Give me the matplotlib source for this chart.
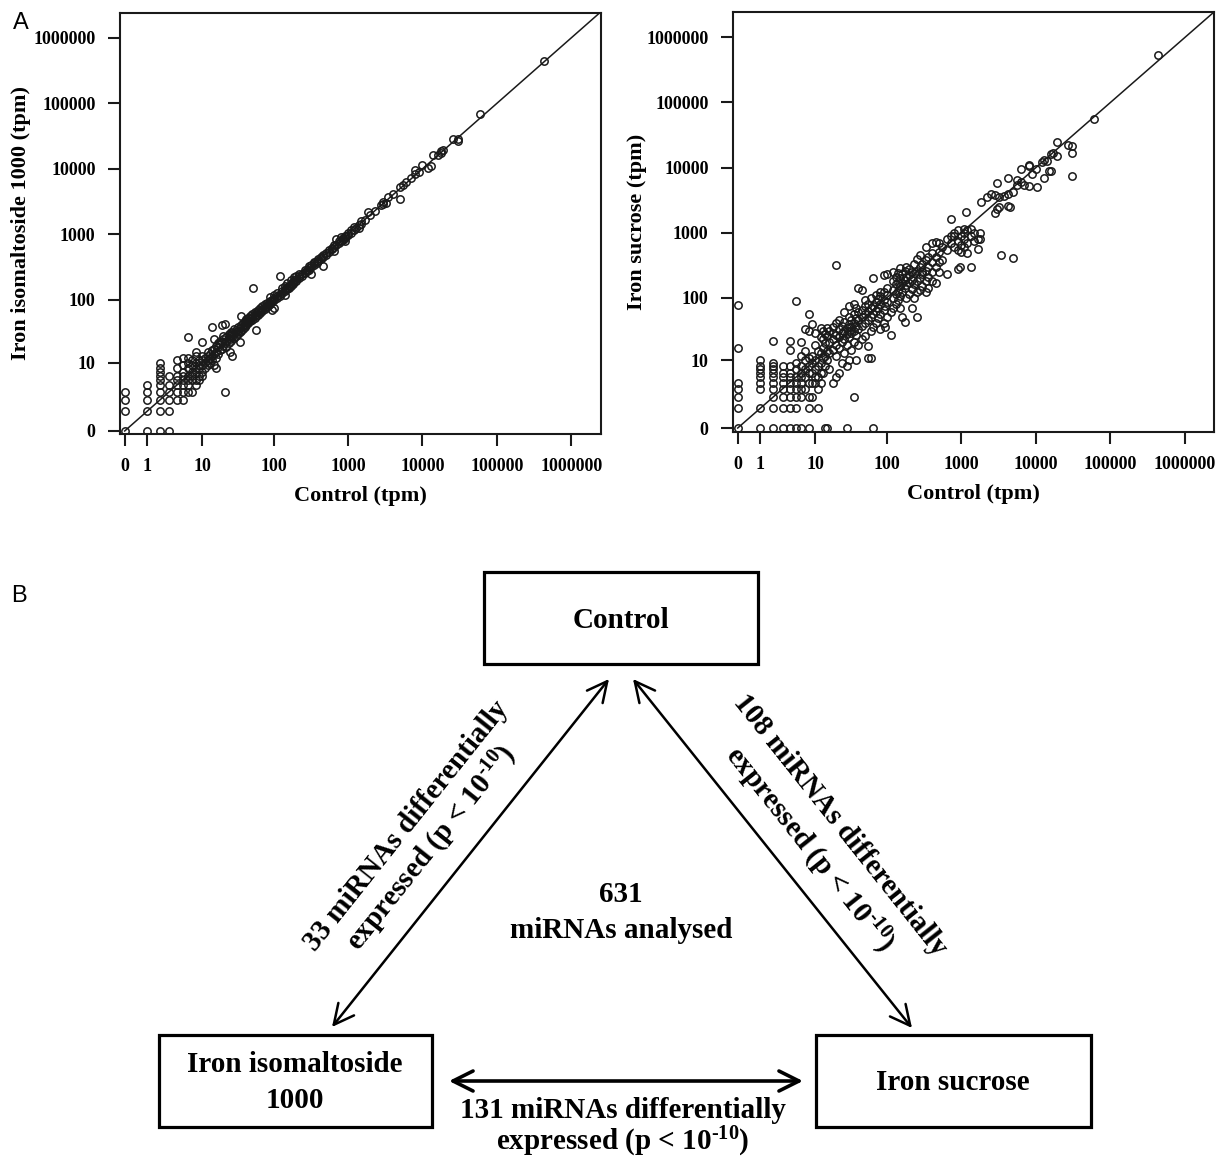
import numpy as np
import matplotlib
matplotlib.use('Agg')
import matplotlib.pyplot as plt
from matplotlib.patches import Rectangle
from matplotlib.ticker import NullLocator

# (control tpm, treatment tpm), left
iso_points = [
    (0, 0), (0, 1), (0, 2), (0, 3),
    (1, 0), (1, 1), (1, 2), (1, 3), (1, 4),
    (2, 0), (2, 1), (2, 2), (2, 3), (2, 4), (2, 5), (2, 6), (2, 7), (2, 8), (2, 10),
    (3, 0), (3, 1), (3, 2), (3, 3), (3, 4), (3, 6),
    (4, 2), (4, 3), (4, 4), (4, 5), (4, 6), (4, 8), (4, 11),
    (5, 2), (5, 3), (5, 4), (5, 5), (5, 6), (5, 7), (5, 9), (5, 12),
    (6, 3), (6, 4), (6, 5), (6, 6), (6, 8), (6, 10), (6, 12), (6, 26),
    (7, 3), (7, 5), (7, 6), (7, 7), (7, 9), (7, 11),
    (8, 4), (8, 5), (8, 7), (8, 8), (8, 10), (8, 13), (8, 15),
    (9, 5), (9, 6), (9, 8), (9, 9), (9, 11),
    (10, 6), (10, 7), (10, 9), (10, 11), (10, 13), (10, 22),
    (11, 8), (11, 10), (11, 12), (12, 9), (12, 11), (12, 13), (12, 15),
    (13, 10), (13, 12), (13, 14), (14, 11), (14, 13), (14, 16), (14, 38),
    (15, 9), (15, 14), (15, 17), (15, 24), (16, 8), (16, 12), (16, 15), (16, 19),
    (17, 14), (17, 18), (17, 21), (18, 16), (18, 20), (18, 23),
    (19, 17), (19, 22), (19, 40), (20, 19), (20, 24), (20, 27),
    (21, 3), (21, 21), (21, 42), (22, 18), (22, 23), (22, 26),
    (24, 21), (24, 25), (24, 29), (25, 15), (25, 24), (25, 27),
    (26, 23), (26, 28), (26, 32), (27, 13), (27, 26), (27, 30),
    (28, 25), (28, 29), (28, 35), (30, 27), (30, 31), (30, 34),
    (32, 29), (32, 33), (32, 38), (34, 22), (34, 31), (34, 36),
    (35, 33), (35, 40), (35, 55), (38, 35), (38, 39), (38, 44),
    (40, 37), (40, 42), (40, 47), (42, 40), (42, 45), (42, 50),
    (45, 43), (45, 47), (45, 52), (48, 46), (48, 50), (48, 55),
    (50, 48), (50, 53), (50, 60), (52, 150), (55, 52), (55, 57), (55, 64),
    (58, 34), (58, 56), (58, 62), (60, 58), (60, 65), (60, 70),
    (65, 62), (65, 68), (65, 74), (70, 66), (70, 73), (70, 80),
    (75, 72), (75, 78), (75, 85), (80, 76), (80, 84), (80, 90),
    (85, 82), (85, 88), (90, 86), (90, 95), (90, 110),
    (95, 70), (95, 92), (95, 100), (100, 75), (100, 98), (100, 105), (100, 120),
    (110, 105), (110, 115), (110, 125), (120, 230), (120, 115), (120, 124),
    (130, 125), (130, 135), (130, 150), (140, 120), (140, 138), (140, 145), (140, 160),
    (150, 145), (150, 155), (150, 180), (160, 150), (160, 165),
    (170, 165), (170, 175), (170, 200), (180, 175), (180, 190),
    (190, 185), (190, 200), (190, 220), (200, 195), (200, 210), (200, 230),
    (220, 215), (220, 230), (220, 250), (240, 235), (240, 250),
    (260, 255), (260, 270), (260, 290), (280, 275), (280, 290),
    (300, 290), (300, 310), (300, 330), (320, 245), (320, 315), (320, 335),
    (350, 340), (350, 360), (350, 380), (380, 370), (380, 395),
    (400, 390), (400, 415), (430, 420), (430, 445), (460, 330), (460, 450), (460, 480),
    (500, 490), (500, 520), (550, 540), (550, 575), (600, 590), (600, 630),
    (650, 550), (650, 640), (650, 700), (700, 690), (700, 850),
    (750, 740), (750, 780), (800, 780), (800, 900), (850, 830), (850, 880),
    (900, 880), (900, 940), (900, 780), (950, 930), (1000, 980), (1000, 1050),
    (1100, 1050), (1100, 1150), (1200, 1300), (1200, 1150), (1300, 1250),
    (1400, 1380), (1400, 1250), (1500, 1450), (1500, 1600), (1700, 1650),
    (1850, 2200), (2000, 1950), (2300, 2250), (2800, 2850),
    (3000, 3150), (3000, 2950), (3200, 3000), (3500, 3700), (4000, 4100),
    (5000, 3500), (5000, 5300), (5500, 5600), (6000, 6300), (7000, 7200),
    (8000, 8500), (8000, 9500), (9000, 9000), (10000, 11500), (12000, 10500),
    (13000, 11000), (14000, 16500), (16000, 16500), (18000, 18500), (18000, 17500),
    (19000, 19500), (26000, 29000), (30000, 27000), (30000, 29000),
    (60000, 70000), (430000, 450000),
]

# (control tpm, treatment tpm), right
suc_points = [
    (0, 0), (0, 1), (0, 2), (0, 3), (0, 4), (0, 16), (0, 76),
    (1, 0), (1, 1), (1, 3), (1, 4), (1, 5), (1, 6), (1, 7), (1, 8), (1, 10),
    (2, 0), (2, 1), (2, 2), (2, 3), (2, 4), (2, 5), (2, 6), (2, 7), (2, 8), (2, 9), (2, 21),
    (3, 0), (3, 1), (3, 2), (3, 3), (3, 4), (3, 5), (3, 6), (3, 8),
    (4, 0), (4, 1), (4, 2), (4, 3), (4, 4), (4, 5), (4, 6), (4, 8), (4, 15), (4, 21),
    (5, 0), (5, 1), (5, 2), (5, 3), (5, 4), (5, 5), (5, 7), (5, 9), (5, 89),
    (6, 0), (6, 2), (6, 3), (6, 4), (6, 5), (6, 6), (6, 8), (6, 12), (6, 20),
    (7, 3), (7, 5), (7, 7), (7, 10), (7, 14), (7, 32),
    (8, 0), (8, 1), (8, 2), (8, 4), (8, 6), (8, 8), (8, 11), (8, 30), (8, 55),
    (9, 2), (9, 4), (9, 6), (9, 9), (9, 12), (9, 38),
    (10, 4), (10, 5), (10, 7), (10, 10), (10, 18), (10, 28),
    (11, 1), (11, 3), (11, 5), (11, 8), (11, 14),
    (12, 4), (12, 6), (12, 9), (12, 13), (12, 24), (12, 33),
    (13, 6), (13, 11), (13, 16), (13, 22), (13, 30),
    (14, 0), (14, 8), (14, 12), (14, 19), (14, 27),
    (15, 0), (15, 10), (15, 14), (15, 25), (15, 33),
    (16, 7), (16, 13), (16, 20), (16, 30),
    (18, 4), (18, 15), (18, 22), (18, 28), (18, 35),
    (20, 5), (20, 12), (20, 18), (20, 26), (20, 40), (20, 320),
    (22, 6), (22, 16), (22, 24), (22, 32), (22, 44),
    (24, 9), (24, 20), (24, 28), (24, 36),
    (26, 13), (26, 22), (26, 30), (26, 42), (26, 60),
    (28, 0), (28, 8), (28, 18), (28, 27), (28, 33),
    (30, 10), (30, 24), (30, 30), (30, 38), (30, 50), (30, 75),
    (32, 15), (32, 28), (32, 35), (32, 45),
    (35, 2), (35, 20), (35, 30), (35, 40), (35, 55), (35, 80),
    (38, 10), (38, 26), (38, 36), (38, 48), (38, 70),
    (40, 18), (40, 32), (40, 44), (40, 60), (40, 140),
    (45, 22), (45, 36), (45, 50), (45, 65), (45, 130),
    (50, 25), (50, 40), (50, 56), (50, 75), (50, 90),
    (55, 11), (55, 17), (55, 45), (55, 62), (55, 80),
    (60, 11), (60, 30), (60, 50), (60, 70), (60, 100),
    (64, 0), (64, 200), (65, 35), (65, 55), (65, 75),
    (70, 40), (70, 62), (70, 85), (70, 110), (75, 48), (75, 70), (75, 95),
    (80, 32), (80, 55), (80, 80), (80, 105), (80, 120),
    (90, 40), (90, 65), (90, 90), (90, 120), (90, 220), (95, 35), (95, 75),
    (100, 50), (100, 85), (100, 110), (100, 140), (100, 230),
    (114, 26), (114, 60), (120, 70), (120, 100), (120, 130), (120, 180), (120, 250),
    (130, 80), (130, 115), (130, 160), (130, 210),
    (140, 90), (140, 125), (140, 175), (140, 240),
    (150, 70), (150, 105), (150, 150), (150, 200), (150, 290),
    (160, 50), (160, 120), (160, 170), (160, 230),
    (173, 42), (173, 140), (173, 190), (173, 260),
    (180, 100), (180, 155), (180, 210), (180, 300),
    (200, 115), (200, 170), (200, 220), (200, 280),
    (215, 68), (215, 135), (215, 190), (215, 250),
    (230, 100), (230, 160), (230, 240), (230, 330),
    (250, 50), (250, 120), (250, 180), (250, 260), (250, 400),
    (280, 130), (280, 200), (280, 300), (280, 450),
    (300, 150), (300, 230), (300, 330), (300, 250),
    (330, 120), (330, 180), (330, 260), (330, 380), (330, 600),
    (360, 140), (360, 210), (360, 300), (360, 430),
    (400, 180), (400, 250), (400, 350), (400, 480), (400, 700),
    (455, 170), (455, 300), (455, 420), (455, 720),
    (500, 250), (500, 350), (500, 500), (500, 700), (550, 380), (550, 600),
    (640, 230), (640, 550), (640, 800), (720, 1600), (720, 700), (720, 900),
    (800, 600), (800, 900), (800, 1000), (900, 280), (900, 550), (900, 750), (900, 1100),
    (950, 300), (1000, 500), (1000, 650), (1000, 900),
    (1100, 600), (1100, 800), (1100, 1000), (1100, 1150), (1150, 2100),
    (1200, 480), (1200, 700), (1200, 1100), (1350, 300), (1350, 900), (1350, 1150),
    (1500, 750), (1500, 1000), (1650, 560), (1650, 800), (1800, 800), (1800, 1000),
    (1850, 3000), (2200, 3500), (2500, 4000), (2800, 2000), (2800, 3800),
    (3000, 5800), (3000, 2300), (3200, 2500), (3200, 3500), (3450, 460), (3700, 3600),
    (4200, 2600), (4200, 4000), (4200, 7000), (4500, 2500), (5000, 410), (5000, 4200),
    (5500, 6500), (5500, 5500), (6300, 9500), (6300, 6000), (7000, 5500),
    (8000, 5200), (8000, 10500), (8200, 11000), (9000, 8000), (10000, 9500),
    (10500, 5000), (12000, 12000), (13000, 7000), (13000, 13000), (14000, 12500),
    (15000, 9000), (16000, 9000), (16000, 16000), (17000, 17000),
    (19000, 25000), (19000, 15000), (27000, 22000),
    (31000, 21500), (31000, 16500), (31000, 7500), (60000, 56000), (430000, 530000),
]

x_ticks = [0, 1, 10, 100, 1000, 10000, 100000, 1000000]
y_ticks = [0, 10, 100, 1000, 10000, 100000, 1000000]

# counts shown in panel B
n_analysed = 631
n_iso_ctrl = 33
n_suc_ctrl = 108
n_iso_suc = 131

plt.rcParams['font.family'] = ['Liberation Serif', 'DejaVu Serif']
plt.rcParams['font.weight'] = 'bold'
plt.rcParams['mathtext.fontset'] = 'custom'
plt.rcParams['mathtext.rm'] = 'Liberation Serif:bold'
plt.rcParams['mathtext.it'] = 'Liberation Serif:bold'
plt.rcParams['mathtext.bf'] = 'Liberation Serif:bold'
plt.rcParams['mathtext.default'] = 'rm'


def fwd(v):
    v = np.asarray(v, dtype=float)
    return np.log10(np.clip(v + 1, 1e-9, None))


def inv(t):
    return 10 ** np.asarray(t, dtype=float) - 1


W, H = 1218, 1161
fig = plt.figure(figsize=(W / 100, H / 100), dpi=100)


def px_axes(l, t, r, b):
    return fig.add_axes([l / W, 1 - b / H, (r - l) / W, (b - t) / H])


def scatter_panel(ax, pts, ylabel, xlim, ylim, ylab_x):
    xs = [p[0] for p in pts]
    ys = [p[1] for p in pts]
    ax.set_xscale('function', functions=(fwd, inv))
    ax.set_yscale('function', functions=(fwd, inv))
    ax.plot(xs, ys, 'o', ms=5.3, mfc='none', mec='#1a1a1a', mew=1.1, ls='none')
    ax.plot([0, 1e8], [0, 1e8], color='#1a1a1a', lw=1.1)
    ax.set_xlim(inv(xlim[0]), inv(xlim[1]))
    ax.set_ylim(inv(ylim[0]), inv(ylim[1]))
    ax.set_xticks(x_ticks, [str(v) for v in x_ticks])
    ax.set_yticks(y_ticks, [str(v) for v in y_ticks])
    ax.xaxis.set_minor_locator(NullLocator())
    ax.yaxis.set_minor_locator(NullLocator())
    ax.tick_params(length=8.6, width=1.5, labelsize=13, color='#1a1a1a')
    ax.tick_params(axis='x', pad=9)
    ax.tick_params(axis='y', pad=9)
    for s in ax.spines.values():
        s.set_linewidth(1.5)
        s.set_color('#1a1a1a')
    ax.set_xlabel('Control (tpm)', fontsize=16, fontweight='bold', va='center')
    ax.xaxis.set_label_coords(0.5, -0.148)
    ax.set_ylabel(ylabel, fontsize=16, fontweight='bold', va='center')
    ax.yaxis.set_label_coords(ylab_x, 0.5)


ax1 = px_axes(120, 13, 601, 434)
scatter_panel(ax1, iso_points, 'Iron isomaltoside 1000 (tpm)',
              (-0.063, 6.40), (-0.046, 6.38), -0.206)
ax2 = px_axes(733, 12, 1214, 432)
scatter_panel(ax2, suc_points, 'Iron sucrose (tpm)',
              (-0.063, 6.39), (-0.061, 6.39), -0.2)

fig.text(21 / W, 1 - 23 / H, 'A', family='Liberation Sans', fontweight='normal',
         fontsize=17, ha='center', va='center')
fig.text(19 / W, 1 - 596 / H, 'B', family='Liberation Sans', fontweight='normal',
         fontsize=17, ha='center', va='center')

# panel B: diagram in pixel coordinates
axb = fig.add_axes([0, 0, 1, 1])
axb.set_xlim(0, W)
axb.set_ylim(H, 0)
axb.axis('off')

box_lw = 2.3
for (l, t, r, b) in [(484, 572, 758, 664), (159, 1035, 432, 1127), (816, 1035, 1091, 1127)]:
    axb.add_patch(Rectangle((l, t), r - l, b - t, fill=False, lw=box_lw, ec='black'))

tsize = 21
axb.text(621, 620, 'Control', fontsize=tsize, ha='center', va='center')
axb.text(295, 1064, 'Iron isomaltoside', fontsize=tsize, ha='center', va='center')
axb.text(295, 1101, '1000', fontsize=tsize, ha='center', va='center')
axb.text(953, 1083, 'Iron sucrose', fontsize=tsize, ha='center', va='center')

axb.text(621, 895, str(n_analysed), fontsize=tsize, ha='center', va='center')
axb.text(621, 931, 'miRNAs analysed', fontsize=tsize, ha='center', va='center')

pexp = r'expressed (p < $10^{\text{-}10}$)'
axb.text(623, 1111, f'{n_iso_suc} miRNAs differentially', fontsize=tsize,
         ha='center', va='center')
axb.text(623, 1142, pexp, fontsize=tsize, ha='center', va='center')

ang = np.degrees(np.arctan2(1027 - 679, 609 - 332))
axb.text(406, 826, f'{n_iso_ctrl} miRNAs differentially', fontsize=tsize,
         rotation=ang, rotation_mode='anchor', ha='center', va='center')
axb.text(432, 848, pexp, fontsize=tsize,
         rotation=ang, rotation_mode='anchor', ha='center', va='center')
axb.text(840, 825, f'{n_suc_ctrl} miRNAs differentially', fontsize=tsize,
         rotation=-ang, rotation_mode='anchor', ha='center', va='center')
axb.text(809, 850, pexp, fontsize=tsize,
         rotation=-ang, rotation_mode='anchor', ha='center', va='center')

arrow_kw = dict(arrowstyle='<->,head_length=0.8,head_width=0.4', lw=1.8,
                color='black', mutation_scale=18, shrinkA=0, shrinkB=0)
axb.annotate('', xy=(609, 679), xytext=(332, 1027), arrowprops=arrow_kw)
axb.annotate('', xy=(633, 679), xytext=(912, 1028), arrowprops=arrow_kw)
arrow_h = dict(arrow_kw, lw=2.6)
axb.annotate('', xy=(449, 1081), xytext=(803, 1081), arrowprops=arrow_h)

fig.savefig('out.png', dpi=100)
